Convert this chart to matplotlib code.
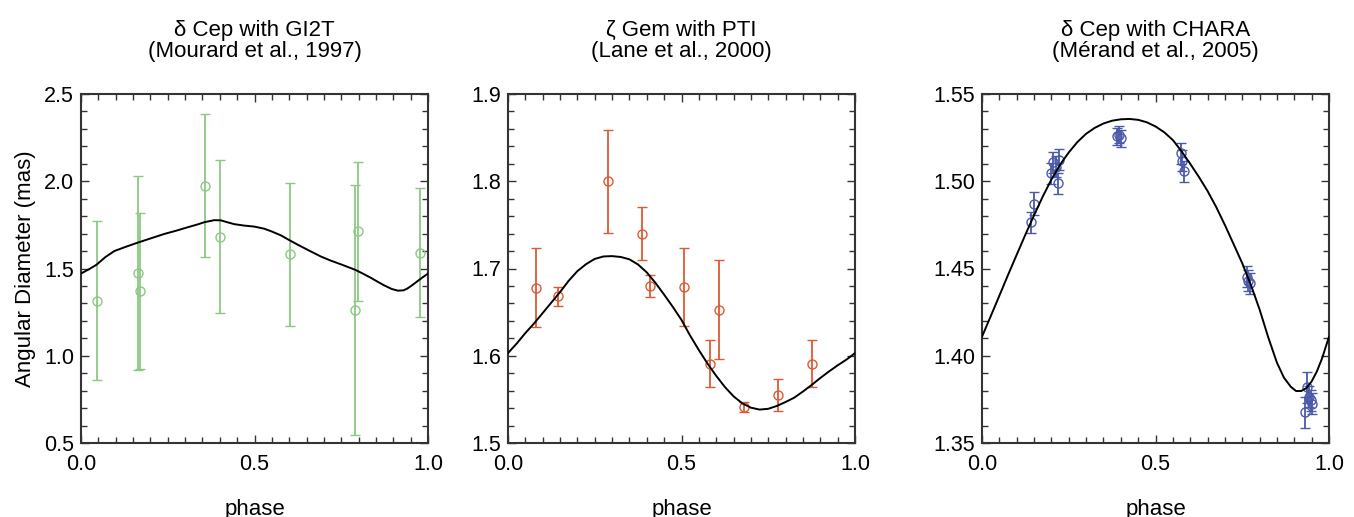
import numpy as np
import matplotlib
matplotlib.use("Agg")
import matplotlib.pyplot as plt
from matplotlib.ticker import MultipleLocator, FormatStrFormatter

plt.rcParams['font.family'] = ['Liberation Sans', 'DejaVu Sans']

# --- delta Cep with GI2T (Mourard et al., 1997) ---
gi2t_phase = [0.045, 0.163, 0.170, 0.358, 0.402, 0.602, 0.791, 0.799, 0.976]
gi2t_diam = [1.316, 1.474, 1.371, 1.975, 1.682, 1.581, 1.264, 1.713, 1.591]
gi2t_err = [0.457, 0.556, 0.449, 0.409, 0.439, 0.410, 0.717, 0.397, 0.368]
gi2t_model_phase = [0.000, 0.025, 0.045, 0.070, 0.096, 0.130, 0.163, 0.200, 0.240, 0.275,
                    0.307, 0.335, 0.355, 0.384, 0.403, 0.420, 0.442, 0.470, 0.500, 0.528,
                    0.550, 0.576, 0.600, 0.624, 0.660, 0.692, 0.720, 0.749, 0.770, 0.791,
                    0.815, 0.836, 0.855, 0.874, 0.895, 0.913, 0.930, 0.941, 0.955, 0.970,
                    0.985, 1.000]
gi2t_model_diam = [1.471, 1.498, 1.522, 1.565, 1.600, 1.625, 1.648, 1.672, 1.698, 1.717,
                   1.736, 1.752, 1.765, 1.777, 1.776, 1.766, 1.754, 1.746, 1.740, 1.728,
                   1.712, 1.690, 1.663, 1.637, 1.600, 1.568, 1.545, 1.524, 1.508, 1.492,
                   1.468, 1.446, 1.424, 1.403, 1.383, 1.373, 1.375, 1.386, 1.405, 1.428,
                   1.450, 1.471]

# --- zeta Gem with PTI (Lane et al., 2000) ---
pti_phase = [0.081, 0.144, 0.289, 0.387, 0.408, 0.507, 0.582, 0.608, 0.680, 0.779, 0.876]
pti_diam = [1.678, 1.668, 1.800, 1.740, 1.680, 1.679, 1.591, 1.653, 1.541, 1.555, 1.591]
pti_err = [0.045, 0.011, 0.059, 0.030, 0.013, 0.045, 0.027, 0.057, 0.0055, 0.018, 0.027]
pti_model_phase = [0.000, 0.025, 0.050, 0.075, 0.100, 0.125, 0.150, 0.175, 0.200, 0.225,
                   0.250, 0.275, 0.300, 0.325, 0.350, 0.375, 0.400, 0.425, 0.450, 0.475,
                   0.500, 0.525, 0.550, 0.575, 0.600, 0.625, 0.650, 0.675, 0.700, 0.725,
                   0.750, 0.775, 0.800, 0.825, 0.850, 0.875, 0.900, 0.925, 0.950, 0.975,
                   1.000]
pti_model_diam = [1.603, 1.614, 1.626, 1.637, 1.649, 1.661, 1.673, 1.686, 1.697, 1.705,
                  1.711, 1.7138, 1.7142, 1.7132, 1.7105, 1.7045, 1.6955, 1.6835, 1.670, 1.656,
                  1.641, 1.623, 1.6065, 1.591, 1.577, 1.5642, 1.5535, 1.5455, 1.5405, 1.5383,
                  1.5392, 1.5425, 1.547, 1.552, 1.559, 1.5665, 1.5745, 1.582, 1.589, 1.5955,
                  1.603]

# --- delta Cep with CHARA (Merand et al., 2005) ---
chara_phase = [0.141, 0.151, 0.199, 0.206, 0.213, 0.219, 0.222, 0.388, 0.394, 0.402,
               0.573, 0.576, 0.583, 0.765, 0.768, 0.771, 0.931, 0.938, 0.941, 0.947, 0.952]
chara_diam = [1.4765, 1.4870, 1.5045, 1.5108, 1.5083, 1.4988, 1.5124, 1.5258, 1.5267, 1.5246,
              1.5160, 1.5118, 1.5057, 1.4453, 1.4430, 1.4415, 1.3676, 1.3819, 1.3766, 1.3746, 1.3724]
chara_err = [0.006, 0.0066, 0.006, 0.006, 0.006, 0.006, 0.006, 0.005, 0.005, 0.005,
             0.006, 0.006, 0.006, 0.006, 0.006, 0.006, 0.009, 0.009, 0.006, 0.006, 0.006]
chara_model_phase = [0.000, 0.025, 0.050, 0.075, 0.100, 0.125, 0.150, 0.175, 0.200, 0.225,
                     0.250, 0.275, 0.300, 0.325, 0.350, 0.375, 0.400, 0.425, 0.450, 0.475,
                     0.500, 0.525, 0.550, 0.575, 0.600, 0.625, 0.650, 0.675, 0.700, 0.725,
                     0.750, 0.775, 0.800, 0.825, 0.850, 0.870, 0.890, 0.905, 0.920, 0.935,
                     0.950, 0.965, 0.980, 1.000]
chara_model_diam = [1.4109, 1.4226, 1.4344, 1.4463, 1.4579, 1.4694, 1.4805, 1.4912, 1.5010, 1.5095,
                    1.5165, 1.5225, 1.5272, 1.5306, 1.5331, 1.5347, 1.5355, 1.5357, 1.5352, 1.5338,
                    1.5314, 1.5281, 1.5236, 1.5172, 1.5100, 1.5025, 1.4944, 1.4852, 1.4749, 1.4640,
                    1.4530, 1.4405, 1.4265, 1.4105, 1.3960, 1.3875, 1.3822, 1.3798, 1.3798, 1.3815,
                    1.3853, 1.3910, 1.3985, 1.4109]

panels = [
    dict(title="δ Cep with GI2T\n(Mourard et al., 1997)", phase=gi2t_phase, diam=gi2t_diam,
         err=gi2t_err, mphase=gi2t_model_phase, mdiam=gi2t_model_diam, color='#8cc884',
         ylim=(0.5, 2.5), major=0.5, minor=0.1, fmt='%.1f', left=81),
    dict(title="ζ Gem with PTI\n(Lane et al., 2000)", phase=pti_phase, diam=pti_diam,
         err=pti_err, mphase=pti_model_phase, mdiam=pti_model_diam, color='#dc5a32',
         ylim=(1.5, 1.9), major=0.1, minor=0.02, fmt='%.1f', left=508),
    dict(title="δ Cep with CHARA\n(Mérand et al., 2005)", phase=chara_phase, diam=chara_diam,
         err=chara_err, mphase=chara_model_phase, mdiam=chara_model_diam, color='#4a5aa8',
         ylim=(1.35, 1.55), major=0.05, minor=0.01, fmt='%.2f', left=982),
]

W, H = 1354, 517
fig = plt.figure(figsize=(W / 100, H / 100), dpi=100)

for i, p in enumerate(panels):
    ax = fig.add_axes([p['left'] / W, (H - 443) / H, 347 / W, 349 / H])
    ax.errorbar(p['phase'], p['diam'], yerr=p['err'], fmt='o', mfc='none', mec=p['color'],
                ms=6.5, mew=1.0, ecolor=p['color'], elinewidth=1.3, capsize=3.5, capthick=1.3,
                zorder=2)
    ax.plot(p['mphase'], p['mdiam'], color='black', lw=1.4, zorder=3)
    ax.set_xlim(0, 1)
    ax.set_ylim(*p['ylim'])
    ax.xaxis.set_major_locator(MultipleLocator(0.5))
    ax.xaxis.set_minor_locator(MultipleLocator(0.05))
    ax.yaxis.set_major_locator(MultipleLocator(p['major']))
    ax.yaxis.set_minor_locator(MultipleLocator(p['minor']))
    ax.yaxis.set_major_formatter(FormatStrFormatter(p['fmt']))
    ax.tick_params(which='both', direction='in', top=True, right=True, labelsize=15.5,
                   color='#333333', width=1.0)
    ax.tick_params(which='major', length=6, pad=8)
    ax.tick_params(which='minor', length=4)
    ax.tick_params(axis='y', which='major', pad=5)
    for s in ax.spines.values():
        s.set_linewidth(1.5)
        s.set_color('#333333')
    ax.set_title(p['title'], fontsize=16, pad=27, linespacing=1.0)
    ax.set_xlabel('phase', fontsize=16, labelpad=17)
    if i == 0:
        ax.set_ylabel('Angular Diameter (mas)', fontsize=16, labelpad=6)

plt.savefig("out.png", dpi=100)
